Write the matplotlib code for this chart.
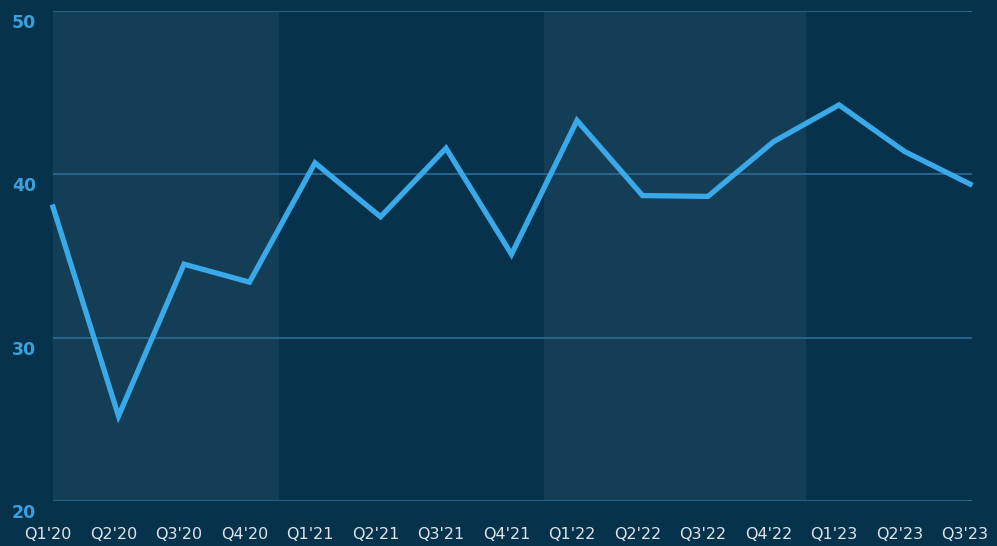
import matplotlib.pyplot as plt
import matplotlib.transforms as mtransforms

quarters = ["Q1'20", "Q2'20", "Q3'20", "Q4'20", "Q1'21", "Q2'21", "Q3'21", "Q4'21",
            "Q1'22", "Q2'22", "Q3'22", "Q4'22", "Q1'23", "Q2'23", "Q3'23"]
values = [38.0, 25.2, 34.5, 33.4, 40.7, 37.4, 41.6, 35.1,
          43.3, 38.7, 38.65, 42.0, 44.25, 41.4, 39.4]
bands = [(-0.5, 3.45), (7.5, 11.5)]
yticks = [20, 30, 40, 50]

bg = '#06334b'
band_col = '#143e55'
grid_col = '#2a6890'
line_col = '#3aa9e9'

fig = plt.figure(figsize=(9.97, 5.46), dpi=100, facecolor=bg)
ax = fig.add_axes([53/997, 45/546, 919/997, 490/546])
ax.set_facecolor(bg)

x = list(range(len(quarters)))
for a, b in bands:
    ax.axvspan(a, b, color=band_col, zorder=0, lw=0)
for t in yticks:
    ax.axhline(t, color=grid_col, lw=1.3, zorder=1)
ax.plot(x, values, color=line_col, lw=3.8, solid_joinstyle='miter', zorder=3, clip_on=False)

ax.set_xlim(0, 14.03)
ax.set_ylim(20, 50)
ax.set_xticks(x)
ax.set_xticklabels(quarters, color='#dde4ea', fontsize=11.5)
ax.set_yticks(yticks)
ax.set_yticklabels([str(t) for t in yticks], color='#3a9fdc', fontsize=12.5, fontweight='bold')
ax.tick_params(axis='both', length=0)
ax.tick_params(axis='x', pad=19)
ax.tick_params(axis='y', pad=12)
for s in ax.spines.values():
    s.set_visible(False)

off = mtransforms.ScaledTranslation(0, -10/100, fig.dpi_scale_trans)
for lab in ax.get_yticklabels():
    lab.set_transform(lab.get_transform() + off)
xoff = mtransforms.ScaledTranslation(-5/100, 0, fig.dpi_scale_trans)
for lab in ax.get_xticklabels():
    lab.set_transform(lab.get_transform() + xoff)

fig.savefig('out.png', dpi=100, facecolor=bg)
